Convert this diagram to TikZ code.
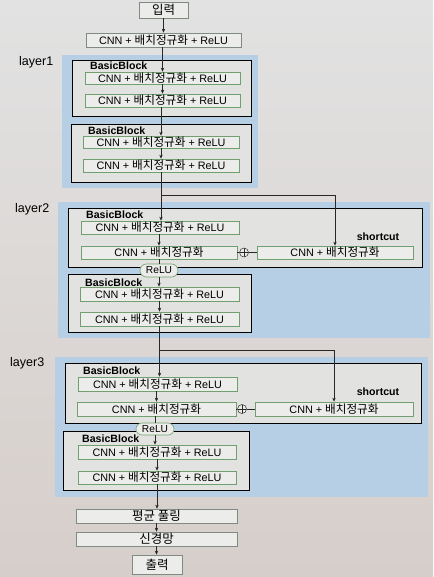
\documentclass[tikz,border=0pt]{standalone}
\usepackage{fontspec}
\setmainfont{Liberation Sans}
\newfontfamily\kr{Noto Sans CJK KR}
\newcommand\krm[1]{{\kr\fontsize{11.6}{12}\selectfont #1}}
\newcommand\krl[1]{{\kr\fontsize{12.5}{13}\selectfont #1}}
\usetikzlibrary{arrows.meta,shapes.misc}
\definecolor{pagetop}{RGB}{226,226,226}
\definecolor{pagebot}{RGB}{214,206,202}
\definecolor{layerblue}{RGB}{182,207,228}
\definecolor{blockfill}{RGB}{226,226,224}
\definecolor{boxfill}{RGB}{236,236,234}
\definecolor{boxgreen}{RGB}{112,160,112}
\definecolor{boxgray}{RGB}{128,138,128}
\definecolor{linedark}{RGB}{40,40,40}
\tikzset{
  layerbg/.style={fill=layerblue, draw=none, inner sep=0pt},
  blockbox/.style={fill=blockfill, draw=black, line width=0.8pt, inner sep=0pt},
  innerbox/.style={fill=boxfill, draw=boxgreen, line width=0.6pt, inner sep=0pt,
    minimum height=13pt, font=\fontsize{10.8}{12}\selectfont},
  plainbox/.style={fill=boxfill, draw=boxgray, line width=0.6pt, inner sep=0pt,
    minimum height=14pt, font=\fontsize{10.8}{12}\selectfont},
  blocklabel/.style={anchor=west, inner sep=0pt, font=\fontsize{10.6}{12}\selectfont\bfseries},
  layerlabel/.style={anchor=west, inner sep=0pt, font=\fontsize{12.5}{14}\selectfont},
  sclabel/.style={inner sep=0pt, font=\fontsize{10.6}{12}\selectfont\bfseries},
  relu/.style={rounded rectangle, fill=boxfill, draw=boxgreen, line width=0.6pt, inner sep=0pt,
    minimum width=38pt, minimum height=13pt, font=\fontsize{10.2}{11}\selectfont},
  plusnode/.style={circle, draw=linedark, line width=0.5pt, fill=boxfill, inner sep=0pt,
    minimum size=9pt, path picture={
      \draw[linedark, line width=0.5pt] (path picture bounding box.north) -- (path picture bounding box.south)
        (path picture bounding box.west) -- (path picture bounding box.east);}},
  conn/.style={draw=linedark, line width=0.6pt},
  arr/.style={conn, -{Stealth[length=4pt,width=3.4pt]}},
}
\begin{document}
\begin{tikzpicture}[x=1pt,y=-1pt]
\shade[top color=pagetop, bottom color=pagebot] (0,0) rectangle (433,577);
\useasboundingbox (0,0) rectangle (433,577);

% layer backgrounds
\node[layerbg, minimum width=196pt, minimum height=133pt] (L1) at (160,121.5) {};
\node[layerbg, minimum width=372pt, minimum height=136pt] (L2) at (244,270) {};
\node[layerbg, minimum width=373pt, minimum height=140pt] (L3) at (241.5,427) {};

% layer labels
\node[layerlabel] (l1lab) at (19,62) {layer1};
\node[layerlabel] (l2lab) at (15,209) {layer2};
\node[layerlabel] (l3lab) at (10,363) {layer3};

% block boxes
\node[blockbox, minimum width=179pt, minimum height=56pt] (B1a) at (161.5,88) {};
\node[blockbox, minimum width=180pt, minimum height=58pt] (B1b) at (161,153) {};
\node[blockbox, minimum width=354pt, minimum height=59pt] (B2a) at (245,237.5) {};
\node[blockbox, minimum width=183pt, minimum height=58pt] (B2b) at (159.5,303) {};
\node[blockbox, minimum width=356pt, minimum height=60pt] (B3a) at (243,393) {};
\node[blockbox, minimum width=186pt, minimum height=59pt] (B3b) at (156,460.5) {};

% block labels
\node[blocklabel] (b1alab) at (90,66) {BasicBlock};
\node[blocklabel] (b1blab) at (88,130.5) {BasicBlock};
\node[blocklabel] (b2alab) at (86,215) {BasicBlock};
\node[blocklabel] (b2blab) at (85,282.5) {BasicBlock};
\node[blocklabel] (b3alab) at (83,370.5) {BasicBlock};
\node[blocklabel] (b3blab) at (82,438.5) {BasicBlock};

% top
\node[plainbox, minimum width=49pt, minimum height=16pt] (in) at (163.5,10) {\krl{입력}};
\node[plainbox, minimum width=155pt] (c0) at (163.5,40) {CNN + \krm{배치정규화} + ReLU};

% layer1
\node[innerbox, minimum width=155pt, minimum height=12pt] (i1) at (162.5,78) {CNN + \krm{배치정규화} + ReLU};
\node[innerbox, minimum width=155pt] (i2) at (162.5,100.5) {CNN + \krm{배치정규화} + ReLU};
\node[innerbox, minimum width=156pt, minimum height=12pt] (i3) at (161,142) {CNN + \krm{배치정규화} + ReLU};
\node[innerbox, minimum width=156pt] (i4) at (161,165.5) {CNN + \krm{배치정규화} + ReLU};

% layer2
\node[innerbox, minimum width=158pt] (i5) at (160,227.5) {CNN + \krm{배치정규화} + ReLU};
\node[innerbox, minimum width=156pt] (i6) at (159,252.5) {CNN + \krm{배치정규화}};
\node[plusnode] (p1) at (244,252.5) {};
\node[innerbox, minimum width=156pt] (sc1) at (335,252.5) {CNN + \krm{배치정규화}};
\node[sclabel] (sc1lab) at (378,237) {shortcut};
\node[relu] (r1) at (159,270.5) {ReLU};
\node[innerbox, minimum width=159pt, minimum height=14pt] (i7) at (159.5,294) {CNN + \krm{배치정규화} + ReLU};
\node[innerbox, minimum width=159pt, minimum height=14pt] (i8) at (159.5,319) {CNN + \krm{배치정규화} + ReLU};

% layer3
\node[innerbox, minimum width=159pt, minimum height=14pt] (i9) at (157.5,384) {CNN + \krm{배치정규화} + ReLU};
\node[innerbox, minimum width=159pt, minimum height=14pt] (i10) at (156.5,409) {CNN + \krm{배치정규화}};
\node[plusnode] (p2) at (242,409) {};
\node[innerbox, minimum width=158pt, minimum height=14pt] (sc2) at (334,409) {CNN + \krm{배치정규화}};
\node[sclabel] (sc2lab) at (378,392) {shortcut};
\node[relu, minimum width=38pt, minimum height=12pt] (r2) at (155,429) {ReLU};
\node[innerbox, minimum width=158pt, minimum height=14pt] (i11) at (157,452) {CNN + \krm{배치정규화} + ReLU};
\node[innerbox, minimum width=158pt, minimum height=13pt] (i12) at (157,477.5) {CNN + \krm{배치정규화} + ReLU};

% bottom
\node[plainbox, minimum width=161pt] (pool) at (156.5,516) {\krl{평균 풀링}};
\node[plainbox, minimum width=161pt] (fc) at (156.5,539) {\krl{신경망}};
\node[plainbox, minimum width=50pt, minimum height=19pt] (out) at (157,564.5) {\krl{출력}};

% main flow
\draw[arr] (in.south) -- (in.south |- c0.north);
\draw[arr] (c0.south -| i1.north) -- (i1.north);
\draw[arr] (i1.south) -- (i1.south |- i2.north);
\draw[arr] (i2.south -| i3.north) -- (i3.north);
\draw[arr] (i3.south) -- (i3.south |- i4.north);
\draw[arr] (i4.south) -- (i4.south |- i5.north);
\draw[arr] (i5.south -| i6.north) -- (i6.north);
\draw[conn] (i6.south) -- (r1.north);
\draw[arr] (r1.south) -- (r1.south |- i7.north);
\draw[arr] (i7.south) -- (i7.south |- i8.north);
\draw[arr] (i8.south) -- (i8.south |- i9.north);
\draw[arr] (i9.south -| i10.north) -- (i10.north);
\draw[conn] (i10.south -| r2.north) -- (r2.north);
\draw[arr] (r2.south) -- (r2.south |- i11.north);
\draw[arr] (i11.south) -- (i11.south |- i12.north);
\draw[arr] (i12.south) -- (i12.south |- pool.north);
\draw[arr] (pool.south) -- (pool.south |- fc.north);
\draw[arr] (fc.south) -- (fc.south |- out.north);

% shortcuts
\coordinate (s1) at (i4.south |- 0,195);
\draw[arr] (s1) -| (sc1.north);
\coordinate (s2) at (i8.south |- 0,350);
\draw[arr] (s2) -| (sc2.north);
\draw[conn] (i6.east) -- (p1.west);
\draw[conn] (p1.east) -- (sc1.west);
\draw[conn] (i10.east) -- (p2.west);
\draw[conn] (p2.east) -- (sc2.west);
\end{tikzpicture}
\end{document}
